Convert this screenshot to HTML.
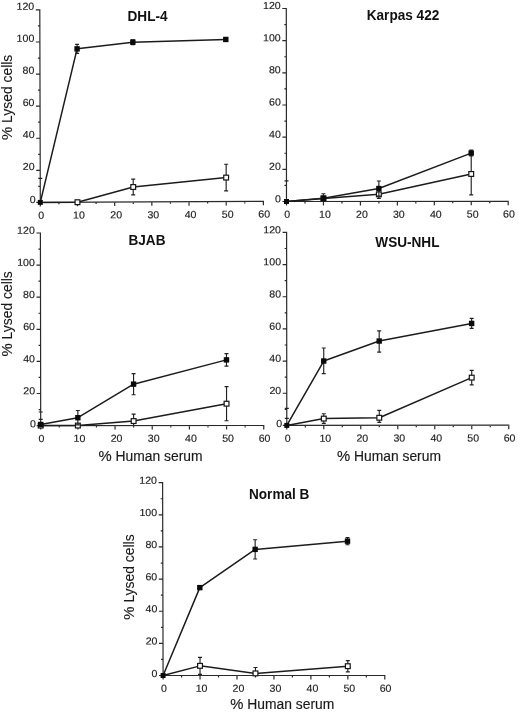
<!DOCTYPE html>
<html><head><meta charset="utf-8"><title>Figure</title>
<style>
html,body{margin:0;padding:0;background:#fff}
svg{display:block}
text{font-family:"Liberation Sans",Arial,Helvetica,sans-serif;fill:#1a1a1a}
.t{font-size:10.2px;stroke:#1a1a1a;stroke-width:.15}
.b{font-size:13.6px;font-weight:bold;fill:#111}
.l{font-size:13.85px;stroke:#1a1a1a;stroke-width:.15}
.lv{font-size:13.9px;stroke:#1a1a1a;stroke-width:.1}
.ax{stroke:#2a2a2a;stroke-width:1.2;fill:none;stroke-linecap:butt}
.ln{stroke:#1c1c1c;stroke-width:1.5;fill:none;stroke-linejoin:round}
.eb{stroke:#222;stroke-width:1.15;fill:none}
.fm{fill:#0a0a0a;stroke:none}
.om{fill:#fff;stroke:#161616;stroke-width:1.2}
</style></head>
<body>
<svg width="520" height="712" viewBox="0 0 520 712">
<rect width="520" height="712" fill="#fff"/>
<g>
<path class="ax" d="M39.8 9.3L40.3 202.4L264 201.3M40.3 202.4h-4M40.26 186.36h-2M40.22 170.32h-4M40.17 154.28h-2M40.13 138.23h-4M40.09 122.19h-2M40.05 106.15h-4M40.01 90.11h-2M39.97 74.07h-4M39.92 58.03h-2M39.88 41.98h-4M39.84 25.94h-2M39.8 9.9h-4M40.3 202.4v4M58.89 202.31v2M77.48 202.22v4M96.07 202.12v2M114.67 202.03v4M133.26 201.94v2M151.85 201.85v4M170.44 201.76v2M189.03 201.67v4M207.62 201.58v2M226.22 201.48v4M244.81 201.39v2M263.4 201.3v4"/>
<text class="t" text-anchor="end" transform="translate(35.6 203.1) matrix(1.04 .002 0 1 0 0)">0</text><text class="t" text-anchor="end" transform="translate(34.62 170.12) matrix(1.04 .002 0 1 0 0)">20</text><text class="t" text-anchor="end" transform="translate(34.53 138.03) matrix(1.04 .002 0 1 0 0)">40</text><text class="t" text-anchor="end" transform="translate(34.45 105.95) matrix(1.04 .002 0 1 0 0)">60</text><text class="t" text-anchor="end" transform="translate(34.37 73.87) matrix(1.04 .002 0 1 0 0)">80</text><text class="t" text-anchor="end" transform="translate(34.28 41.78) matrix(1.04 .002 0 1 0 0)">100</text><text class="t" text-anchor="end" transform="translate(34.2 9.7) matrix(1.04 .002 0 1 0 0)">120</text>
<text class="t" text-anchor="middle" transform="translate(41.1 218.7) matrix(1.04 .002 0 1 0 0)">0</text><text class="t" text-anchor="middle" transform="translate(78.98 218.52) matrix(1.04 .002 0 1 0 0)">10</text><text class="t" text-anchor="middle" transform="translate(116.17 218.33) matrix(1.04 .002 0 1 0 0)">20</text><text class="t" text-anchor="middle" transform="translate(153.35 218.15) matrix(1.04 .002 0 1 0 0)">30</text><text class="t" text-anchor="middle" transform="translate(190.53 217.97) matrix(1.04 .002 0 1 0 0)">40</text><text class="t" text-anchor="middle" transform="translate(227.72 217.78) matrix(1.04 .002 0 1 0 0)">50</text><text class="t" text-anchor="middle" transform="translate(264.2 217.6) matrix(1.04 .002 0 1 0 0)">60</text>
<text class="b" text-anchor="middle" transform="translate(147.5 20.7) scale(1 1.07)">DHL-4</text>
<g transform="translate(12.1 97) rotate(-90)"><text class="lv" text-anchor="end" transform="translate(-29.77 0) scale(1.07 1)">%</text><text class="lv" x="-25.92" y="0">Lysed cells</text></g>
<polyline class="ln" points="40.3,202.4 77.48,202.22 133.22,187.02 226.15,177.58"/>
<path class="eb" d="M133.22 179.16V194.88M131.22 179.16h4M131.22 194.88h4M226.15 164.27V190.9M224.15 164.27h4M224.15 190.9h4"/>
<rect class="om" x="75.08" y="199.82" width="4.8" height="4.8"/><rect class="om" x="130.82" y="184.62" width="4.8" height="4.8"/><rect class="om" x="223.75" y="175.18" width="4.8" height="4.8"/>
<polyline class="ln" points="40.3,202.4 77.08,48.86 132.84,42.17 225.8,39.46"/>
<path class="eb" d="M38.3 178.34h4M77.08 44.37V53.35M75.08 44.37h4M75.08 53.35h4M132.84 39.76V44.57M130.84 39.76h4M130.84 44.57h4M225.8 37.54V41.39M223.8 37.54h4M223.8 41.39h4"/>
<rect class="fm" x="37.8" y="199.9" width="5.0" height="5.0"/><rect class="fm" x="74.38" y="46.16" width="5.4" height="5.4"/><rect class="fm" x="130.14" y="39.47" width="5.4" height="5.4"/><rect class="fm" x="223.1" y="36.76" width="5.4" height="5.4"/>
</g>
<g>
<path class="ax" d="M286.3 7.9L286.5 201.5L508.8 201.3M286.5 201.5h-4M286.48 185.42h-2M286.47 169.33h-4M286.45 153.25h-2M286.43 137.17h-4M286.42 121.08h-2M286.4 105h-4M286.38 88.92h-2M286.37 72.83h-4M286.35 56.75h-2M286.33 40.67h-4M286.32 24.58h-2M286.3 8.5h-4M286.5 201.5v4M304.98 201.48v2M323.45 201.47v4M341.93 201.45v2M360.4 201.43v4M378.88 201.42v2M397.35 201.4v4M415.82 201.38v2M434.3 201.37v4M452.77 201.35v2M471.25 201.33v4M489.73 201.32v2M508.2 201.3v4"/>
<text class="t" text-anchor="end" transform="translate(281 202.2) matrix(1.04 .002 0 1 0 0)">0</text><text class="t" text-anchor="end" transform="translate(280.87 169.83) matrix(1.04 .002 0 1 0 0)">20</text><text class="t" text-anchor="end" transform="translate(280.83 137.67) matrix(1.04 .002 0 1 0 0)">40</text><text class="t" text-anchor="end" transform="translate(280.8 105.5) matrix(1.04 .002 0 1 0 0)">60</text><text class="t" text-anchor="end" transform="translate(280.77 73.33) matrix(1.04 .002 0 1 0 0)">80</text><text class="t" text-anchor="end" transform="translate(280.73 41.17) matrix(1.04 .002 0 1 0 0)">100</text><text class="t" text-anchor="end" transform="translate(280.7 9) matrix(1.04 .002 0 1 0 0)">120</text>
<text class="t" text-anchor="middle" transform="translate(287.3 217.8) matrix(1.04 .002 0 1 0 0)">0</text><text class="t" text-anchor="middle" transform="translate(324.95 217.77) matrix(1.04 .002 0 1 0 0)">10</text><text class="t" text-anchor="middle" transform="translate(361.9 217.73) matrix(1.04 .002 0 1 0 0)">20</text><text class="t" text-anchor="middle" transform="translate(398.85 217.7) matrix(1.04 .002 0 1 0 0)">30</text><text class="t" text-anchor="middle" transform="translate(435.8 217.67) matrix(1.04 .002 0 1 0 0)">40</text><text class="t" text-anchor="middle" transform="translate(472.75 217.63) matrix(1.04 .002 0 1 0 0)">50</text><text class="t" text-anchor="middle" transform="translate(509 217.6) matrix(1.04 .002 0 1 0 0)">60</text>
<text class="b" text-anchor="middle" transform="translate(403 19.7) scale(1 1.07)">Karpas 422</text>
<polyline class="ln" points="286.5,201.5 323.45,198.41 378.87,194.34 471.22,173.99"/>
<path class="eb" d="M378.87 190.32V198.36M376.87 190.32h4M376.87 198.36h4M471.22 153.08V194.9M469.22 153.08h4M469.22 194.9h4"/>
<rect class="om" x="321.05" y="196.01" width="4.8" height="4.8"/><rect class="om" x="376.47" y="191.94" width="4.8" height="4.8"/><rect class="om" x="468.82" y="171.59" width="4.8" height="4.8"/>
<polyline class="ln" points="286.5,201.5 323.45,198.25 378.86,188.55 471.2,153.08"/>
<path class="eb" d="M284.5 180.91h4M323.45 193.75V201.47M321.45 193.75h4M378.86 180.99V196.11M376.86 180.99h4M376.86 196.11h4M471.2 150.19V155.98M469.2 150.19h4M469.2 155.98h4"/>
<rect class="fm" x="284" y="199" width="5.0" height="5.0"/><rect class="fm" x="320.75" y="195.55" width="5.4" height="5.4"/><rect class="fm" x="376.16" y="185.85" width="5.4" height="5.4"/><rect class="fm" x="468.5" y="150.38" width="5.4" height="5.4"/>
</g>
<g>
<path class="ax" d="M40.4 232.4L40.7 425.6L264.35 425.5M40.7 425.6h-4M40.68 409.55h-2M40.65 393.5h-4M40.62 377.45h-2M40.6 361.4h-4M40.58 345.35h-2M40.55 329.3h-4M40.52 313.25h-2M40.5 297.2h-4M40.48 281.15h-2M40.45 265.1h-4M40.42 249.05h-2M40.4 233h-4M40.7 425.6v4M59.29 425.59v2M77.88 425.58v4M96.46 425.58v2M115.05 425.57v4M133.64 425.56v2M152.23 425.55v4M170.81 425.54v2M189.4 425.53v4M207.99 425.52v2M226.57 425.52v4M245.16 425.51v2M263.75 425.5v4"/>
<text class="t" text-anchor="end" transform="translate(36 427.2) matrix(1.04 .002 0 1 0 0)">0</text><text class="t" text-anchor="end" transform="translate(35.05 394.3) matrix(1.04 .002 0 1 0 0)">20</text><text class="t" text-anchor="end" transform="translate(35 362.2) matrix(1.04 .002 0 1 0 0)">40</text><text class="t" text-anchor="end" transform="translate(34.95 330.1) matrix(1.04 .002 0 1 0 0)">60</text><text class="t" text-anchor="end" transform="translate(34.9 298) matrix(1.04 .002 0 1 0 0)">80</text><text class="t" text-anchor="end" transform="translate(34.85 265.9) matrix(1.04 .002 0 1 0 0)">100</text><text class="t" text-anchor="end" transform="translate(34.8 233.8) matrix(1.04 .002 0 1 0 0)">120</text>
<text class="t" text-anchor="middle" transform="translate(41.5 441.9) matrix(1.04 .002 0 1 0 0)">0</text><text class="t" text-anchor="middle" transform="translate(79.38 441.88) matrix(1.04 .002 0 1 0 0)">10</text><text class="t" text-anchor="middle" transform="translate(116.55 441.87) matrix(1.04 .002 0 1 0 0)">20</text><text class="t" text-anchor="middle" transform="translate(153.73 441.85) matrix(1.04 .002 0 1 0 0)">30</text><text class="t" text-anchor="middle" transform="translate(190.9 441.83) matrix(1.04 .002 0 1 0 0)">40</text><text class="t" text-anchor="middle" transform="translate(228.07 441.82) matrix(1.04 .002 0 1 0 0)">50</text><text class="t" text-anchor="middle" transform="translate(264.55 441.8) matrix(1.04 .002 0 1 0 0)">60</text>
<text class="b" text-anchor="middle" transform="translate(147 245.4) scale(1 1.07)">BJAB</text>
<g transform="translate(12.1 313.5) rotate(-90)"><text class="lv" text-anchor="end" transform="translate(-29.77 0) scale(1.07 1)">%</text><text class="lv" x="-25.92" y="0">Lysed cells</text></g>
<text class="l" text-anchor="end" transform="translate(111.75 461.3) scale(1.07 1)">%</text><text class="l" x="115.6" y="461.3">Human serum</text>
<polyline class="ln" points="40.7,425.6 77.88,425.58 133.63,421.06 226.54,403.69"/>
<path class="eb" d="M38.7 419.34h4M133.63 414.16V425.56M131.63 414.16h4M226.54 386.68V420.7M224.54 386.68h4M224.54 420.7h4"/>
<rect class="om" x="38.3" y="423.2" width="4.8" height="4.8"/><rect class="om" x="75.47" y="423.18" width="4.8" height="4.8"/><rect class="om" x="131.23" y="418.66" width="4.8" height="4.8"/><rect class="om" x="224.14" y="401.29" width="4.8" height="4.8"/>
<polyline class="ln" points="40.7,424.48 77.86,417.72 133.57,384.15 226.47,359.87"/>
<path class="eb" d="M38.7 411.96h4M77.86 410.5V424.94M75.86 410.5h4M75.86 424.94h4M133.57 373.56V394.74M131.57 373.56h4M131.57 394.74h4M226.47 353.61V366.13M224.47 353.61h4M224.47 366.13h4"/>
<rect class="fm" x="38" y="421.78" width="5.4" height="5.4"/><rect class="fm" x="75.16" y="415.02" width="5.4" height="5.4"/><rect class="fm" x="130.87" y="381.45" width="5.4" height="5.4"/><rect class="fm" x="223.77" y="357.17" width="5.4" height="5.4"/>
</g>
<g>
<path class="ax" d="M286.6 231.8L286.8 425.4L509.35 425.2M286.8 425.4h-4M286.78 409.32h-2M286.77 393.23h-4M286.75 377.15h-2M286.73 361.07h-4M286.72 344.98h-2M286.7 328.9h-4M286.68 312.82h-2M286.67 296.73h-4M286.65 280.65h-2M286.63 264.57h-4M286.62 248.48h-2M286.6 232.4h-4M286.8 425.4v4M305.3 425.38v2M323.79 425.37v4M342.29 425.35v2M360.78 425.33v4M379.28 425.32v2M397.77 425.3v4M416.27 425.28v2M434.77 425.27v4M453.26 425.25v2M471.76 425.23v4M490.25 425.22v2M508.75 425.2v4"/>
<text class="t" text-anchor="end" transform="translate(282.1 427.1) matrix(1.04 .002 0 1 0 0)">0</text><text class="t" text-anchor="end" transform="translate(281.17 394.03) matrix(1.04 .002 0 1 0 0)">20</text><text class="t" text-anchor="end" transform="translate(281.13 361.87) matrix(1.04 .002 0 1 0 0)">40</text><text class="t" text-anchor="end" transform="translate(281.1 329.7) matrix(1.04 .002 0 1 0 0)">60</text><text class="t" text-anchor="end" transform="translate(281.07 297.53) matrix(1.04 .002 0 1 0 0)">80</text><text class="t" text-anchor="end" transform="translate(281.03 265.37) matrix(1.04 .002 0 1 0 0)">100</text><text class="t" text-anchor="end" transform="translate(281 233.2) matrix(1.04 .002 0 1 0 0)">120</text>
<text class="t" text-anchor="middle" transform="translate(287.6 441.7) matrix(1.04 .002 0 1 0 0)">0</text><text class="t" text-anchor="middle" transform="translate(325.29 441.67) matrix(1.04 .002 0 1 0 0)">10</text><text class="t" text-anchor="middle" transform="translate(362.28 441.63) matrix(1.04 .002 0 1 0 0)">20</text><text class="t" text-anchor="middle" transform="translate(399.27 441.6) matrix(1.04 .002 0 1 0 0)">30</text><text class="t" text-anchor="middle" transform="translate(436.27 441.57) matrix(1.04 .002 0 1 0 0)">40</text><text class="t" text-anchor="middle" transform="translate(473.26 441.53) matrix(1.04 .002 0 1 0 0)">50</text><text class="t" text-anchor="middle" transform="translate(509.55 441.5) matrix(1.04 .002 0 1 0 0)">60</text>
<text class="b" text-anchor="middle" transform="translate(407.4 246.9) scale(1 1.07)">WSU-NHL</text>
<text class="l" text-anchor="end" transform="translate(350.15 460.8) scale(1.07 1)">%</text><text class="l" x="354" y="460.8">Human serum</text>
<polyline class="ln" points="286.8,425.4 323.78,418.61 379.27,417.76 471.71,377.63"/>
<path class="eb" d="M284.8 418.32h4M323.78 413.79V423.44M321.78 413.79h4M321.78 423.44h4M379.27 410.36V422.42M377.27 410.36h4M377.27 422.42h4M471.71 370.39V384.86M469.71 370.39h4M469.71 384.86h4"/>
<rect class="om" x="321.38" y="416.21" width="4.8" height="4.8"/><rect class="om" x="376.87" y="415.36" width="4.8" height="4.8"/><rect class="om" x="469.31" y="375.23" width="4.8" height="4.8"/>
<polyline class="ln" points="286.8,425.4 323.73,361.03 379.19,341.04 471.65,323.43"/>
<path class="eb" d="M284.8 408.35h4M323.73 348.01V373.58M321.73 348.01h4M321.73 373.58h4M379.19 330.91V352.14M377.19 330.91h4M377.19 352.14h4M471.65 318.44V328.41M469.65 318.44h4M469.65 328.41h4"/>
<rect class="fm" x="284.3" y="422.9" width="5.0" height="5.0"/><rect class="fm" x="321.03" y="358.33" width="5.4" height="5.4"/><rect class="fm" x="376.49" y="338.34" width="5.4" height="5.4"/><rect class="fm" x="468.95" y="320.73" width="5.4" height="5.4"/>
</g>
<g>
<path class="ax" d="M162.6 482.1L163.1 675.5L385.4 675.5M163.1 675.5h-4M163.06 659.43h-2M163.02 643.37h-4M162.97 627.3h-2M162.93 611.23h-4M162.89 595.17h-2M162.85 579.1h-4M162.81 563.03h-2M162.77 546.97h-4M162.72 530.9h-2M162.68 514.83h-4M162.64 498.77h-2M162.6 482.7h-4M163.1 675.5v4M181.57 675.5v2M200.05 675.5v4M218.53 675.5v2M237 675.5v4M255.47 675.5v2M273.95 675.5v4M292.43 675.5v2M310.9 675.5v4M329.38 675.5v2M347.85 675.5v4M366.33 675.5v2M384.8 675.5v4"/>
<text class="t" text-anchor="end" transform="translate(157.5 677.1) matrix(1.04 .002 0 1 0 0)">0</text><text class="t" text-anchor="end" transform="translate(157.42 644.47) matrix(1.04 .002 0 1 0 0)">20</text><text class="t" text-anchor="end" transform="translate(157.33 612.33) matrix(1.04 .002 0 1 0 0)">40</text><text class="t" text-anchor="end" transform="translate(157.25 580.2) matrix(1.04 .002 0 1 0 0)">60</text><text class="t" text-anchor="end" transform="translate(157.17 548.07) matrix(1.04 .002 0 1 0 0)">80</text><text class="t" text-anchor="end" transform="translate(157.08 515.93) matrix(1.04 .002 0 1 0 0)">100</text><text class="t" text-anchor="end" transform="translate(157 483.8) matrix(1.04 .002 0 1 0 0)">120</text>
<text class="t" text-anchor="middle" transform="translate(163.9 691.8) matrix(1.04 .002 0 1 0 0)">0</text><text class="t" text-anchor="middle" transform="translate(201.55 691.8) matrix(1.04 .002 0 1 0 0)">10</text><text class="t" text-anchor="middle" transform="translate(238.5 691.8) matrix(1.04 .002 0 1 0 0)">20</text><text class="t" text-anchor="middle" transform="translate(275.45 691.8) matrix(1.04 .002 0 1 0 0)">30</text><text class="t" text-anchor="middle" transform="translate(312.4 691.8) matrix(1.04 .002 0 1 0 0)">40</text><text class="t" text-anchor="middle" transform="translate(349.35 691.8) matrix(1.04 .002 0 1 0 0)">50</text><text class="t" text-anchor="middle" transform="translate(385.6 691.8) matrix(1.04 .002 0 1 0 0)">60</text>
<text class="b" text-anchor="middle" transform="translate(279.2 498.7) scale(1 1.07)">Normal B</text>
<g transform="translate(133.9 576.7) rotate(-90)"><text class="lv" text-anchor="end" transform="translate(-29.77 0) scale(1.07 1)">%</text><text class="lv" x="-25.92" y="0">Lysed cells</text></g>
<text class="l" text-anchor="end" transform="translate(243.45 709.1) scale(1.07 1)">%</text><text class="l" x="247.3" y="709.1">Human serum</text>
<polyline class="ln" points="163.1,675.5 200.03,665.86 255.47,673.41 347.83,666.18"/>
<path class="eb" d="M200.03 657.34V674.38M198.03 657.34h4M198.03 674.38h4M255.47 667.47V675.5M253.47 667.47h4M347.83 660.56V671.8M345.83 660.56h4M345.83 671.8h4"/>
<rect class="om" x="197.62" y="663.46" width="4.8" height="4.8"/><rect class="om" x="253.07" y="671.01" width="4.8" height="4.8"/><rect class="om" x="345.43" y="663.78" width="4.8" height="4.8"/>
<polyline class="ln" points="163.1,675.5 199.82,587.62 255.15,549.38 347.5,541.18"/>
<path class="eb" d="M255.15 539.74V559.02M253.15 539.74h4M253.15 559.02h4M347.5 537.65V544.72M345.5 537.65h4M345.5 544.72h4"/>
<rect class="fm" x="160.6" y="673" width="5.0" height="5.0"/><rect class="fm" x="197.12" y="584.92" width="5.4" height="5.4"/><rect class="fm" x="252.45" y="546.68" width="5.4" height="5.4"/><rect class="fm" x="344.8" y="538.48" width="5.4" height="5.4"/>
</g>
</svg>
</body></html>
